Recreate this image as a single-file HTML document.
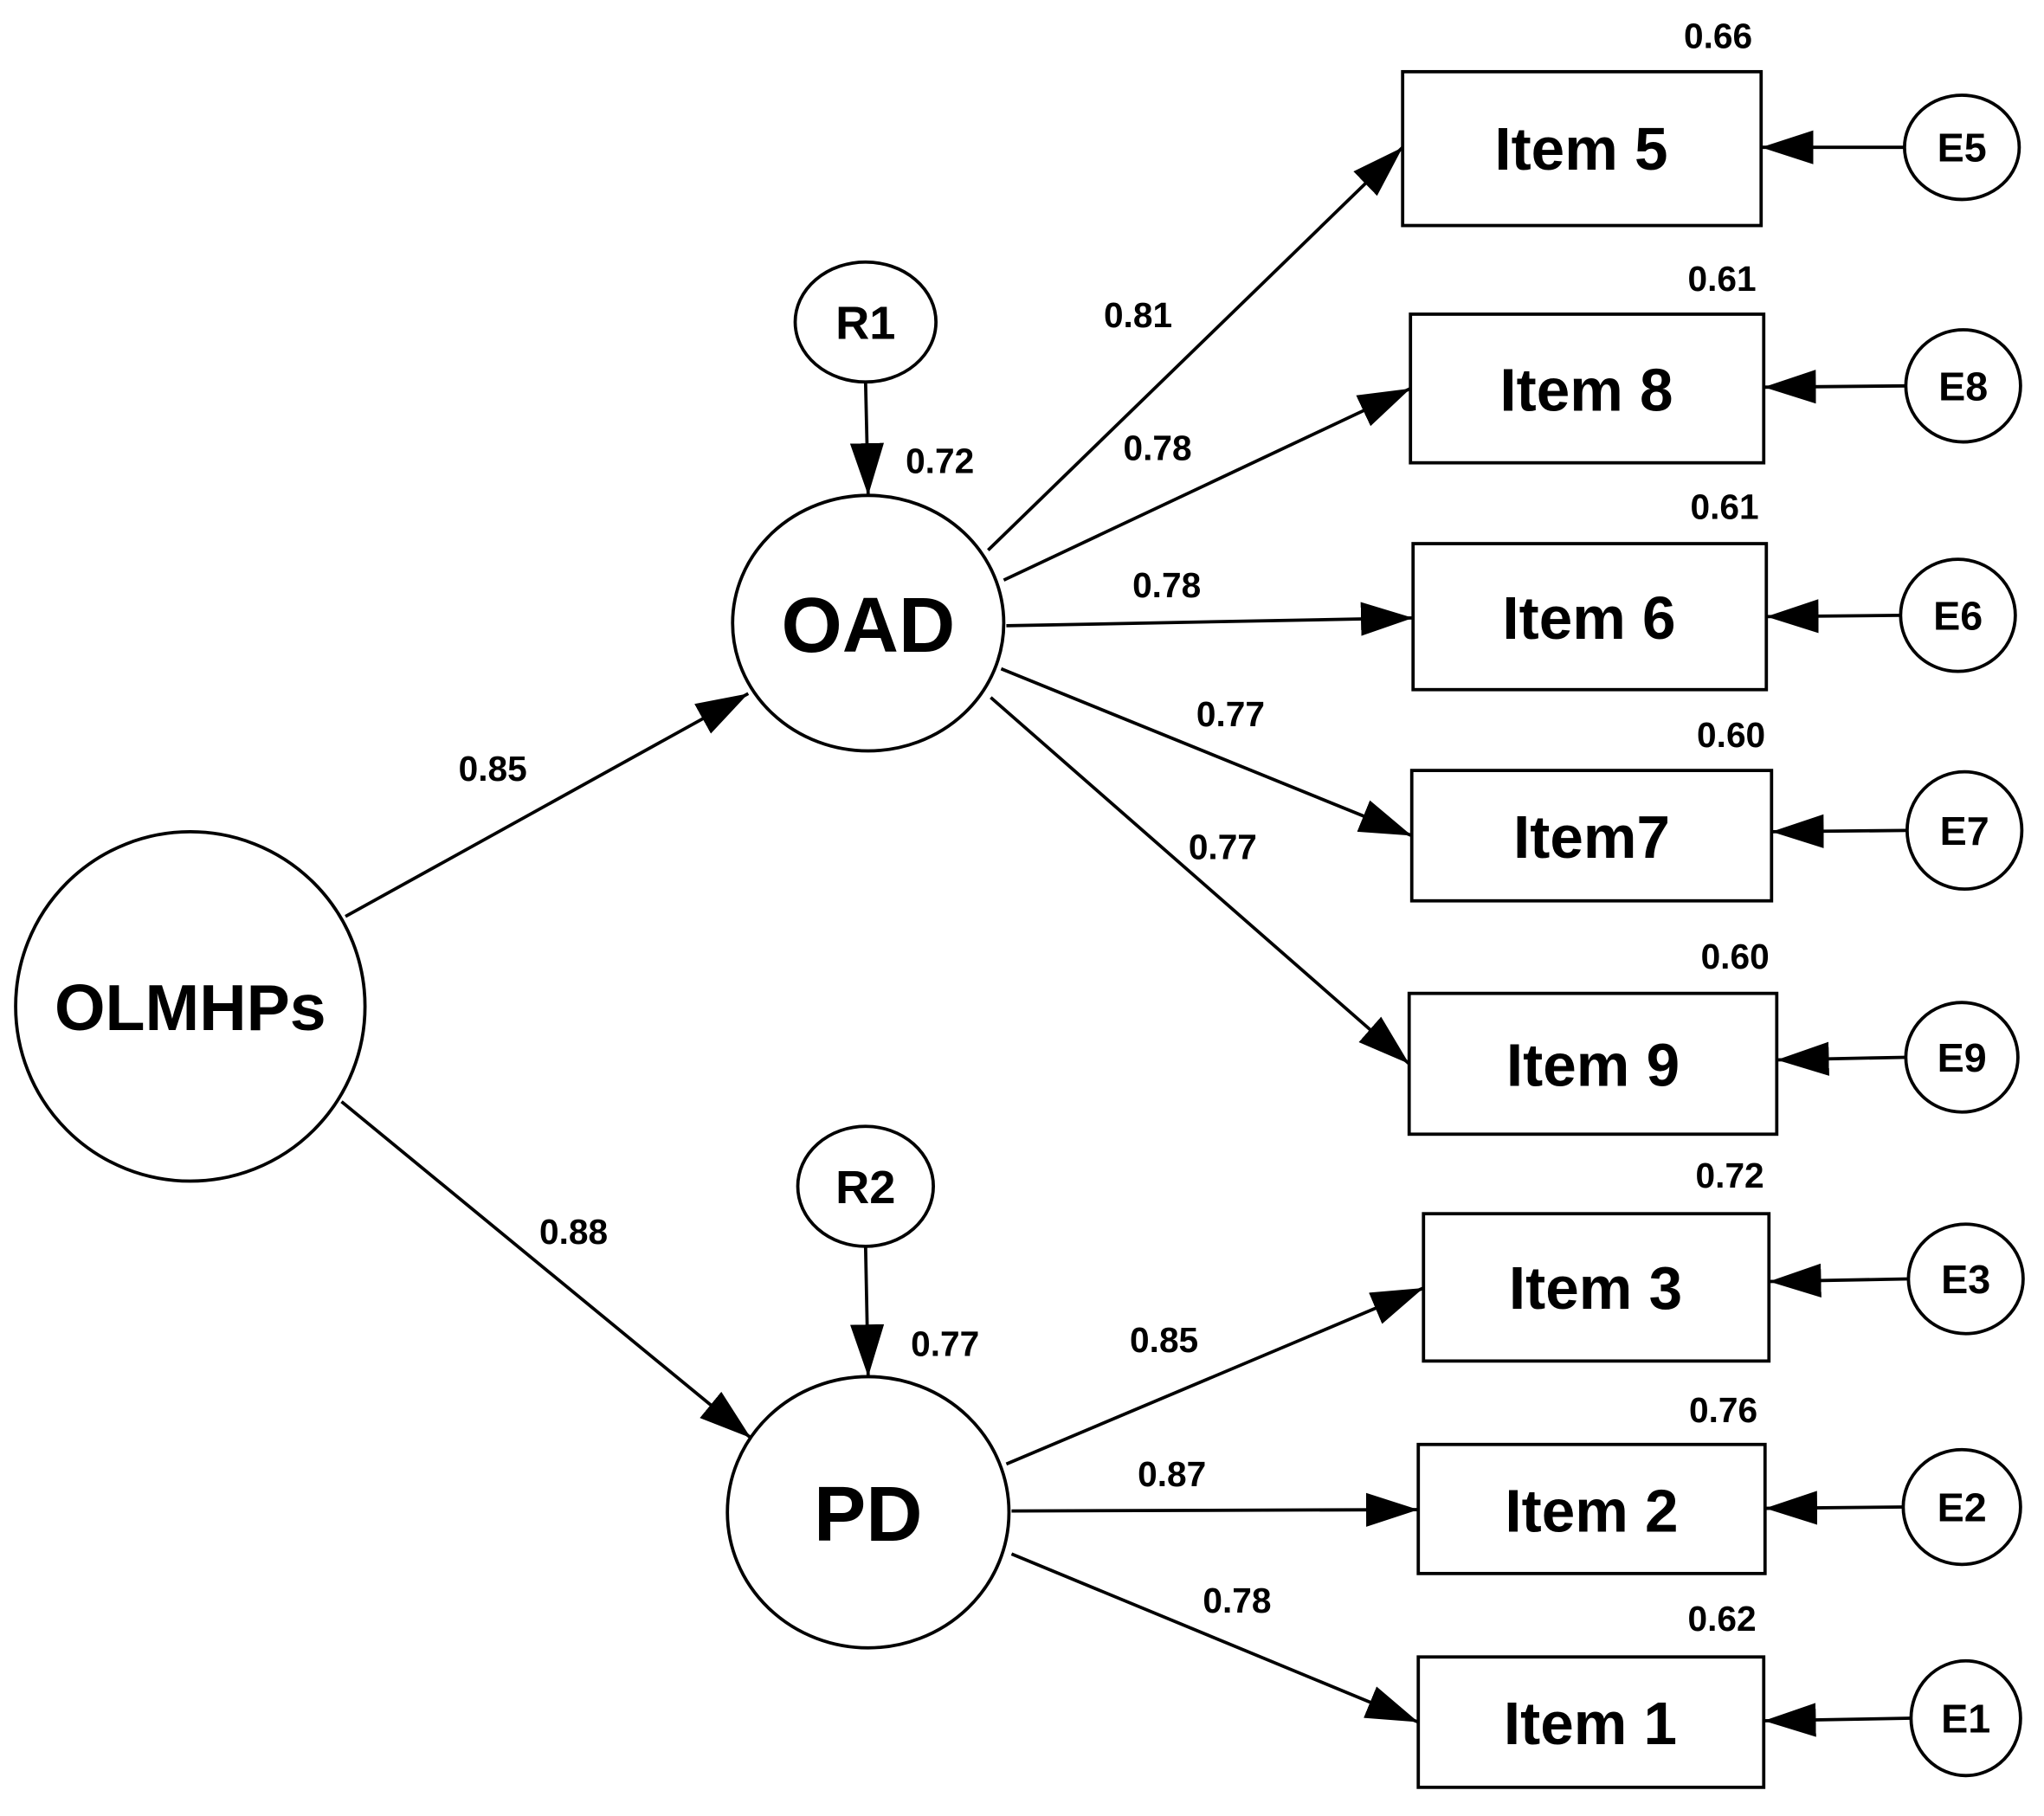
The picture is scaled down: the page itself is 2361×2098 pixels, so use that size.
<!DOCTYPE html>
<html><head><meta charset="utf-8"><style>html,body{margin:0;padding:0;background:#fff}svg{display:block}</style></head>
<body>
<svg width="2361" height="2098" viewBox="0 0 1568 1393" preserveAspectRatio="none" xmlns="http://www.w3.org/2000/svg" font-family="Liberation Sans, Arial, sans-serif" font-weight="bold">
<defs>
<marker id="a" markerUnits="userSpaceOnUse" markerWidth="42" markerHeight="28" refX="40" refY="13" orient="auto">
<path d="M0,0 L40,13 L0,26 Z" fill="#000"/>
</marker>
</defs>
<g stroke="#000" stroke-width="2.5" fill="none">
<ellipse cx="146" cy="772" rx="134" ry="134"/>
<ellipse cx="666" cy="478" rx="104" ry="98"/>
<ellipse cx="666" cy="1160" rx="108" ry="104"/>
<ellipse cx="664" cy="247" rx="54" ry="46"/>
<ellipse cx="664" cy="910" rx="52" ry="46"/>
<rect x="1076" y="55" width="275" height="118"/>
<rect x="1082" y="241" width="271" height="114"/>
<rect x="1084" y="417" width="271" height="112"/>
<rect x="1083" y="591" width="276" height="100"/>
<rect x="1081" y="762" width="282" height="108"/>
<rect x="1092" y="931" width="265" height="113"/>
<rect x="1088" y="1108" width="266" height="99"/>
<rect x="1088" y="1271" width="265" height="100"/>
<ellipse cx="1505" cy="113" rx="44" ry="40"/>
<ellipse cx="1506" cy="296" rx="44" ry="43"/>
<ellipse cx="1502" cy="472" rx="44" ry="43"/>
<ellipse cx="1507" cy="637" rx="44" ry="45"/>
<ellipse cx="1505" cy="811" rx="43" ry="42"/>
<ellipse cx="1508" cy="981" rx="44" ry="42"/>
<ellipse cx="1505" cy="1156" rx="45" ry="44"/>
<ellipse cx="1508" cy="1318" rx="42" ry="44"/>
<g marker-end="url(#a)">
<line x1="758" y1="422" x2="1076" y2="113"/>
<line x1="770" y1="445" x2="1082" y2="298"/>
<line x1="772" y1="480" x2="1084" y2="474"/>
<line x1="768" y1="513" x2="1083" y2="641"/>
<line x1="760" y1="535" x2="1081" y2="816"/>
<line x1="265" y1="703" x2="574" y2="532"/>
<line x1="262" y1="845" x2="576" y2="1103"/>
<line x1="772" y1="1123" x2="1092" y2="988"/>
<line x1="776" y1="1159" x2="1088" y2="1158"/>
<line x1="776" y1="1192" x2="1088" y2="1321"/>
<line x1="664" y1="293" x2="666" y2="380"/>
<line x1="664" y1="956" x2="666" y2="1056"/>
<line x1="1461" y1="113" x2="1351" y2="113"/>
<line x1="1462" y1="296" x2="1353" y2="297"/>
<line x1="1458" y1="472" x2="1355" y2="473"/>
<line x1="1463" y1="637" x2="1359" y2="638"/>
<line x1="1462" y1="811" x2="1363" y2="813"/>
<line x1="1464" y1="981" x2="1357" y2="983"/>
<line x1="1460" y1="1156" x2="1354" y2="1157"/>
<line x1="1466" y1="1318" x2="1353" y2="1320"/>
</g>
</g>
<g text-anchor="middle" fill="#000">
<text x="146" y="790" font-size="50">OLMHPs</text>
<text x="666" y="500" font-size="60">OAD</text>
<text x="666" y="1182" font-size="60">PD</text>
<text x="664" y="260" font-size="36">R1</text>
<text x="664" y="923" font-size="36">R2</text>
<g font-size="46">
<text x="1213" y="130">Item 5</text>
<text x="1217" y="315">Item 8</text>
<text x="1219" y="490">Item 6</text>
<text x="1221" y="658">Item7</text>
<text x="1222" y="833">Item 9</text>
<text x="1224" y="1004">Item 3</text>
<text x="1221" y="1175">Item 2</text>
<text x="1220" y="1338">Item 1</text>
</g>
<g font-size="31">
<text x="1505" y="124">E5</text>
<text x="1506" y="307">E8</text>
<text x="1502" y="483">E6</text>
<text x="1507" y="648">E7</text>
<text x="1505" y="822">E9</text>
<text x="1508" y="992">E3</text>
<text x="1505" y="1167">E2</text>
<text x="1508" y="1329">E1</text>
</g>
<g font-size="27">
<text x="1318" y="37">0.66</text>
<text x="1321" y="223">0.61</text>
<text x="1323" y="398">0.61</text>
<text x="1328" y="573">0.60</text>
<text x="1331" y="743">0.60</text>
<text x="1327" y="911">0.72</text>
<text x="1322" y="1091">0.76</text>
<text x="1321" y="1251">0.62</text>
<text x="873" y="251">0.81</text>
<text x="888" y="353">0.78</text>
<text x="895" y="458">0.78</text>
<text x="944" y="557">0.77</text>
<text x="938" y="659">0.77</text>
<text x="378" y="599">0.85</text>
<text x="440" y="954">0.88</text>
<text x="721" y="363">0.72</text>
<text x="725" y="1040">0.77</text>
<text x="893" y="1037">0.85</text>
<text x="899" y="1140">0.87</text>
<text x="949" y="1237">0.78</text>
</g>
</g>
</svg>
</body></html>
